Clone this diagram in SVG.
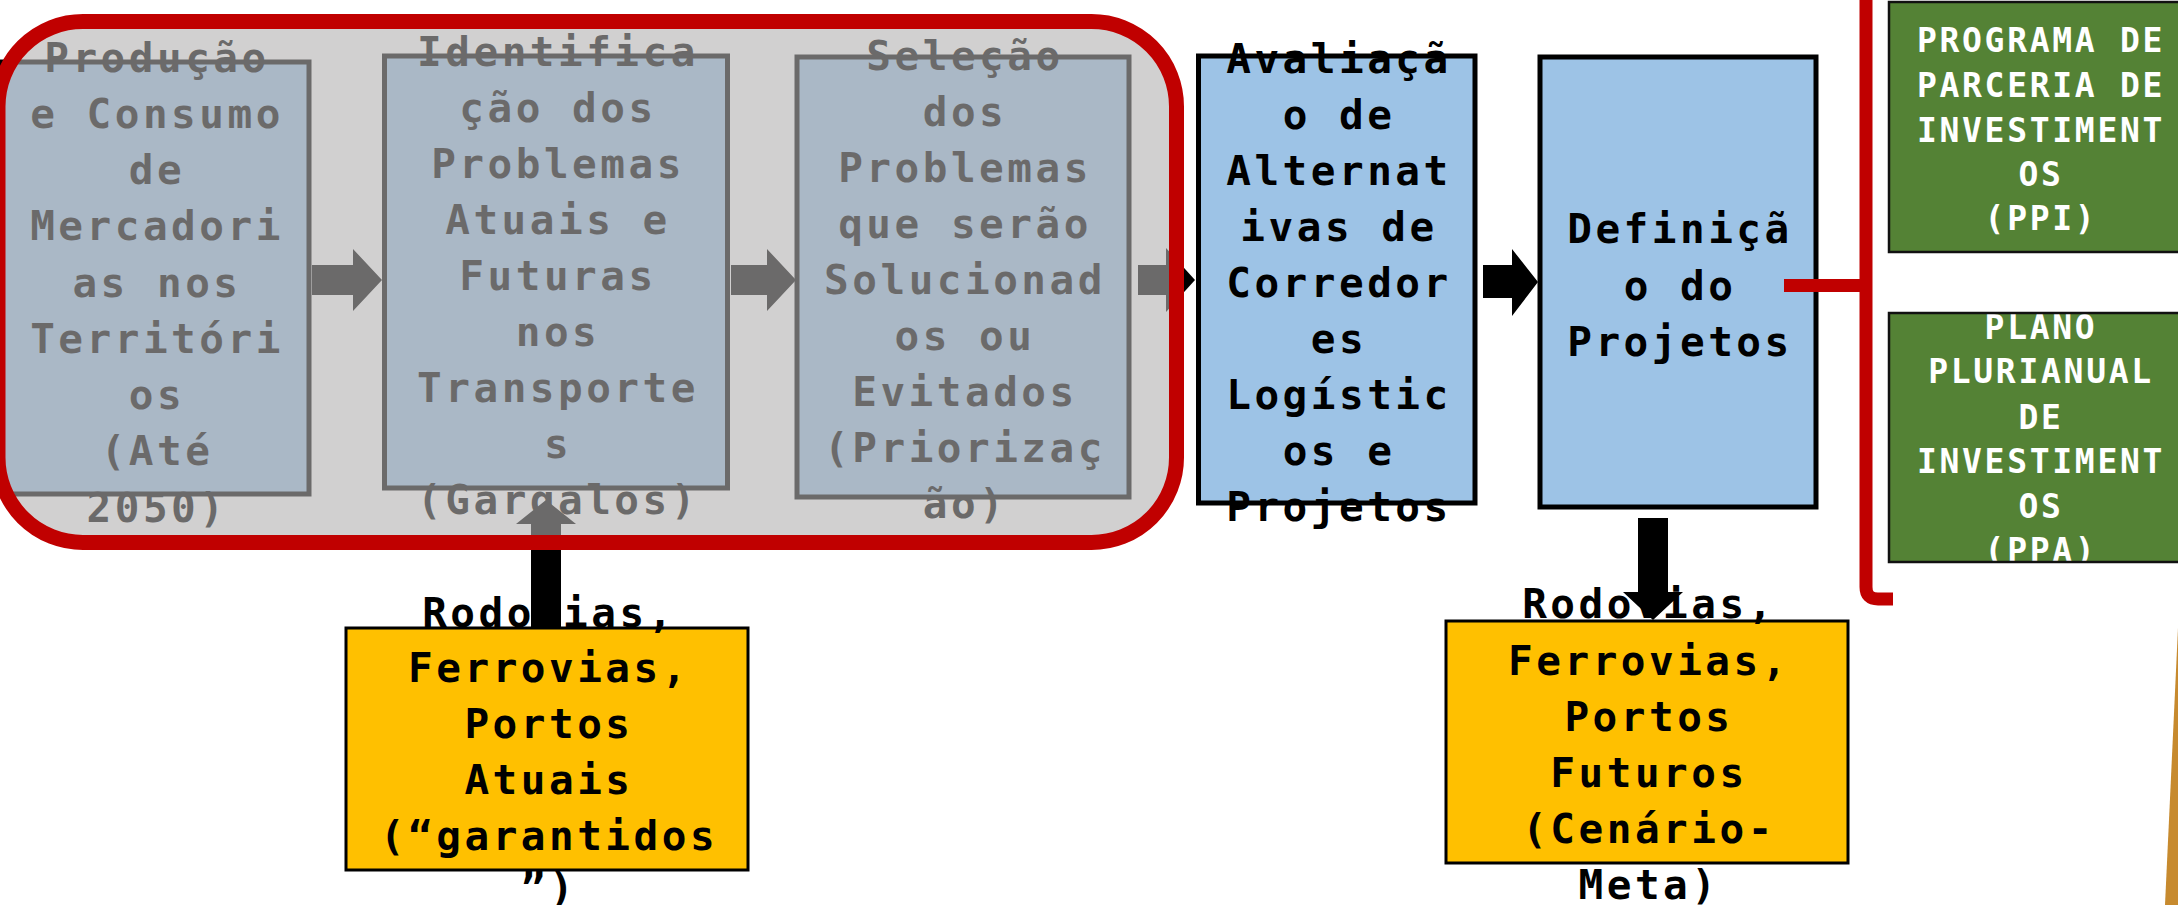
<svg xmlns="http://www.w3.org/2000/svg" width="2178" height="905" viewBox="0 0 2178 905">
<style>
.t{font-family:"DejaVu Sans Mono","Liberation Mono",monospace;font-size:41px;font-weight:bold;letter-spacing:3.5px;text-anchor:middle;fill:#000}
.gt{font-family:"DejaVu Sans Mono","Liberation Mono",monospace;font-size:33px;font-weight:bold;letter-spacing:2.7px;text-anchor:middle;fill:#fff}
.blue{fill:#9DC3E6;stroke:#000;stroke-width:5}
.yel{fill:#FFC000;stroke:#000;stroke-width:3}
.grn{fill:#548235}
.gb{fill:none;stroke:#111;stroke-width:2.5}
.arr{fill:#000}
.red{fill:none;stroke:#C00000;stroke-width:13}
</style>
<rect width="2178" height="905" fill="#fff"/>
<g id="box1">
<rect class="blue" x="2" y="62" width="307" height="432"/>
<text class="t"><tspan x="157" y="72">Produção</tspan><tspan x="157" y="128">e Consumo</tspan><tspan x="157" y="184">de</tspan><tspan x="157" y="240">Mercadori</tspan><tspan x="157" y="297">as nos</tspan><tspan x="157" y="353">Territóri</tspan><tspan x="157" y="409">os</tspan><tspan x="157" y="465">(Até</tspan><tspan x="157" y="522">2050)</tspan></text>
</g>
<g id="box2">
<rect class="blue" x="384.5" y="56" width="343" height="432"/>
<text class="t"><tspan x="558" y="66">Identifica</tspan><tspan x="558" y="122">ção dos</tspan><tspan x="558" y="178">Problemas</tspan><tspan x="558" y="234">Atuais e</tspan><tspan x="558" y="290">Futuras</tspan><tspan x="558" y="346">nos</tspan><tspan x="558" y="402">Transporte</tspan><tspan x="558" y="458">s</tspan><tspan x="558" y="514">(Gargalos)</tspan></text>
</g>
<g id="box3">
<rect class="blue" x="797" y="57" width="332" height="440"/>
<text class="t"><tspan x="965" y="70">Seleção</tspan><tspan x="965" y="126">dos</tspan><tspan x="965" y="182">Problemas</tspan><tspan x="965" y="238">que serão</tspan><tspan x="965" y="294">Solucionad</tspan><tspan x="965" y="350">os ou</tspan><tspan x="965" y="406">Evitados</tspan><tspan x="965" y="462">(Priorizaç</tspan><tspan x="965" y="518">ão)</tspan></text>
</g>
<g id="box4">
<rect class="blue" x="1198.5" y="56" width="276.5" height="447"/>
<text class="t"><tspan x="1339" y="73">Avaliaçã</tspan><tspan x="1339" y="129">o de</tspan><tspan x="1339" y="185">Alternat</tspan><tspan x="1339" y="241">ivas de</tspan><tspan x="1339" y="297">Corredor</tspan><tspan x="1339" y="353">es</tspan><tspan x="1339" y="409">Logístic</tspan><tspan x="1339" y="465">os e</tspan><tspan x="1339" y="521">Projetos</tspan></text>
</g>
<g id="box5">
<rect class="blue" x="1540" y="57" width="276" height="450"/>
<text class="t"><tspan x="1680" y="243">Definiçã</tspan><tspan x="1680" y="299.5">o do</tspan><tspan x="1680" y="356">Projetos</tspan></text>
</g>
<g id="yellow1">
<rect class="yel" x="346" y="628" width="402" height="242"/>
<text class="t"><tspan x="549" y="627">Rodovias,</tspan><tspan x="549" y="682">Ferrovias,</tspan><tspan x="549" y="738">Portos</tspan><tspan x="549" y="794">Atuais</tspan><tspan x="549" y="850">(“garantidos</tspan><tspan x="549" y="902">”)</tspan></text>
</g>
<g id="yellow2">
<rect class="yel" x="1446" y="621" width="402" height="242"/>
<text class="t"><tspan x="1649" y="618">Rodovias,</tspan><tspan x="1649" y="675">Ferrovias,</tspan><tspan x="1649" y="731">Portos</tspan><tspan x="1649" y="787">Futuros</tspan><tspan x="1649" y="843">(Cenário-</tspan><tspan x="1649" y="899">Meta)</tspan></text>
</g>
<g id="ppi">
<rect class="grn" x="1889" y="2" width="300" height="250"/>
<text class="gt"><tspan x="2041" y="52">PROGRAMA DE</tspan><tspan x="2041" y="97">PARCERIA DE</tspan><tspan x="2041" y="142">INVESTIMENT</tspan><tspan x="2041" y="186">OS</tspan><tspan x="2041" y="230">(PPI)</tspan></text>
<rect class="gb" x="1889" y="2" width="300" height="250"/>
</g>
<g id="ppa">
<rect class="grn" x="1889" y="313" width="300" height="249"/>
<text class="gt"><tspan x="2041" y="339">PLANO</tspan><tspan x="2041" y="383">PLURIANUAL</tspan><tspan x="2041" y="429">DE</tspan><tspan x="2041" y="473">INVESTIMENT</tspan><tspan x="2041" y="518">OS</tspan><tspan x="2041" y="562">(PPA)</tspan></text>
<rect class="gb" x="1889" y="313" width="300" height="249"/>
</g>
<g id="connectors">
<polygon class="arr" points="312,265 353,265 353,249 382,280 353,311 353,295 312,295"/>
<polygon class="arr" points="731,265 767,265 767,249 796,280 767,311 767,295 731,295"/>
<polygon class="arr" points="1138,265 1166,265 1166,248 1195,280 1166,312 1166,295 1138,295"/>
<polygon class="arr" points="1483,265 1512,265 1512,249 1538,282 1512,316 1512,298 1483,298"/>
<polygon class="arr" points="531,628 531,524 516,524 546,500 576,524 561,524 561,628"/>
<polygon class="arr" points="1638,518 1668,518 1668,592 1683,592 1653,620 1623,592 1638,592"/>
<path class="red" d="M1784,285.5 L1862,285.5"/>
<path class="red" d="M1866,-20 L1866,587 Q1866,599 1878,599 L1893,599"/>
</g>
<g id="frame">
<rect x="-2" y="21.5" width="1178.5" height="521" rx="85" ry="85" fill="#B2B0B1" fill-opacity="0.6" stroke="#C00000" stroke-width="15"/>
</g>
<polygon points="2178,628 2165,905 2178,905" fill="#C78A2E"/>
</svg>
